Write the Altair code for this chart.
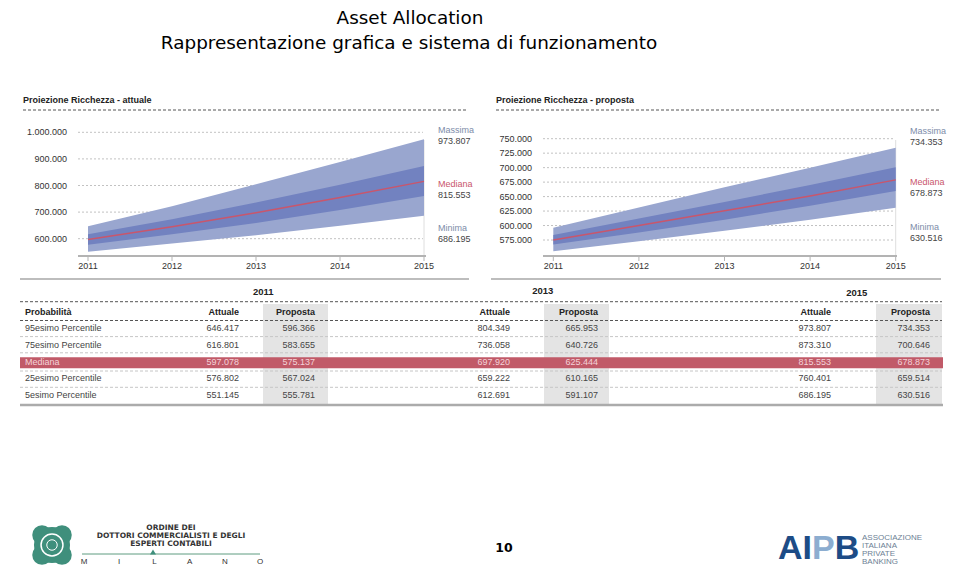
import altair as alt
import pandas as pd

# ---------------- data ----------------
years = [2011, 2012, 2013, 2014, 2015]

# Proiezione Ricchezza - attuale (percentiles per year)
att_p95 = [646417, 722000, 804349, 888000, 973807]
att_p75 = [616801, 673000, 736058, 803000, 873310]
att_med = [597078, 645000, 697920, 755000, 815553]
att_p25 = [576802, 617000, 659222, 708000, 760401]
att_p5 = [551145, 582000, 612691, 649000, 686195]

# Proiezione Ricchezza - proposta
pro_p95 = [596366, 631000, 665953, 700000, 734353]
pro_p75 = [583655, 612000, 640726, 670000, 700646]
pro_med = [575137, 600000, 625444, 651000, 678873]
pro_p25 = [567024, 588000, 610165, 634000, 659514]
pro_p5 = [555781, 573000, 591107, 610000, 630516]

att_ticks = [600000, 700000, 800000, 900000, 1000000]
pro_ticks = [575000, 600000, 625000, 650000, 675000, 700000, 725000, 750000]

row_labels = ["95esimo Percentile", "75esimo Percentile", "Mediana",
              "25esimo Percentile", "5esimo Percentile"]
table_years = [2011, 2013, 2015]

# ---------------- style ----------------
FONT = "Liberation Sans"
TFONT = "DejaVu Sans"
OUTER = "#99a6cf"
INNER = "#7282c0"
RED = "#c9566c"
TXT = "#333333"
M = 8


def px(v):
    return v - M


def it(v):
    return f"{v:,}".replace(",", ".")


def one(t="x"):
    return pd.DataFrame({"t": [t]})


def label(text, x, y, size=9, color=TXT, weight="normal", align="left",
          baseline="middle", font=FONT):
    return alt.Chart(one(text)).mark_text(
        align=align, baseline=baseline, fontSize=size, color=color,
        fontWeight=weight, font=font
    ).encode(x=alt.value(px(x)), y=alt.value(px(y)), text="t:N")


def hline(x1, x2, y, color, width=1, dash=None):
    kw = dict(color=color, strokeWidth=width)
    if dash:
        kw["strokeDash"] = dash
    return alt.Chart(one()).mark_rule(**kw).encode(
        x=alt.value(px(x1)), x2=alt.value(px(x2)), y=alt.value(px(y)))


def box(x1, x2, y1, y2, color):
    return alt.Chart(one()).mark_rect(color=color).encode(
        x=alt.value(px(x1)), x2=alt.value(px(x2)),
        y=alt.value(px(y1)), y2=alt.value(px(y2)))


def dot(x, y, size, color, filled=True, stroke=None, sw=1):
    if filled:
        m = alt.Chart(one()).mark_circle(color=color, opacity=1, size=size)
    else:
        m = alt.Chart(one()).mark_point(color=stroke, filled=False, size=size,
                                        strokeWidth=sw, opacity=1)
    return m.encode(x=alt.value(px(x)), y=alt.value(px(y)))


def panel(df, x0, x1, ydom, yr, ticks, gx0, gx1, labr, ax0, ax1):
    xs = alt.Scale(domain=[2011, 2015], range=[px(x0), px(x1)], nice=False, zero=False)
    ys = alt.Scale(domain=ydom, range=[px(yr[0]), px(yr[1])], nice=False, zero=False)
    X = alt.X("year:Q", scale=xs, axis=None)
    tdf = pd.DataFrame({"v": ticks, "lab": [it(v) for v in ticks]})
    grid = alt.Chart(tdf).mark_rule(color="#c2c2c2", strokeDash=[2, 2]).encode(
        y=alt.Y("v:Q", scale=ys, axis=None), x=alt.value(px(gx0)), x2=alt.value(px(gx1)))
    ylab = alt.Chart(tdf).mark_text(align="right", baseline="middle", fontSize=9,
                                    font=FONT, color=TXT).encode(
        y=alt.Y("v:Q", scale=ys, axis=None), x=alt.value(px(labr)), text="lab:N")
    outer = alt.Chart(df).mark_area(color=OUTER, opacity=1).encode(
        x=X, y=alt.Y("p5:Q", scale=ys, axis=None), y2=alt.Y2("p95"))
    inner = alt.Chart(df).mark_area(color=INNER, opacity=1).encode(
        x=X, y=alt.Y("p25:Q", scale=ys, axis=None), y2=alt.Y2("p75"))
    med = alt.Chart(df).mark_line(color=RED, strokeWidth=1.5).encode(
        x=X, y=alt.Y("med:Q", scale=ys, axis=None))
    edge = alt.Chart(df[df.year == 2015]).mark_rule(color="#dedede").encode(
        x=X, y=alt.value(px(140)), y2=alt.value(px(255)))
    axis = hline(ax0, ax1, 256, "#b3b3b3", 2)
    tk = alt.Chart(df).mark_rule(color="#b3b3b3").encode(
        x=X, y=alt.value(px(256)), y2=alt.value(px(261)))
    xlab = alt.Chart(df).mark_text(baseline="middle", fontSize=9, font=FONT,
                                   color=TXT).encode(
        x=X, y=alt.value(px(266)), text=alt.Text("year:Q", format="d"))
    return [grid, edge, outer, inner, med, ylab, axis, tk, xlab]


df_att = pd.DataFrame({"year": years, "p95": att_p95, "p75": att_p75,
                       "med": att_med, "p25": att_p25, "p5": att_p5})
df_pro = pd.DataFrame({"year": years, "p95": pro_p95, "p75": pro_p75,
                       "med": pro_med, "p25": pro_p25, "p5": pro_p5})

layers = []

# ---------------- title ----------------
layers.append(label("Asset Allocation", 410, 23.5, size=18.4, color="#000",
                    align="center", baseline="alphabetic", font=TFONT))
layers.append(label("Rappresentazione grafica e sistema di funzionamento", 409, 48.5,
                    size=18.4, color="#000", align="center", baseline="alphabetic",
                    font=TFONT))

# ---------------- chart panels ----------------
layers.append(label("Proiezione Ricchezza - attuale", 23, 100, weight="bold", color="#222"))
layers.append(hline(23, 468, 110, "#555", 1, [3, 2]))
layers.append(label("Proiezione Ricchezza - proposta", 496, 100, weight="bold", color="#222"))
layers.append(hline(496, 940, 110, "#555", 1, [3, 2]))

layers += panel(df_att, 88, 424, [600000, 1000000], [238.7, 132.3], att_ticks,
                78, 423, 67, 78, 426)
layers += panel(df_pro, 553.3, 895.7, [575000, 750000], [240, 138.7], pro_ticks,
                543, 895, 532, 543, 897)

GB = "#7d8ca9"
for (xa, vals, ys_) in [(438, (att_p95[-1], att_med[-1], att_p5[-1]), (130, 183.7, 227.7)),
                        (910, (pro_p95[-1], pro_med[-1], pro_p5[-1]), (130.7, 182.3, 227.3))]:
    for name, col, v, yy in zip(["Massima", "Mediana", "Minima"], [GB, RED, GB], vals, ys_):
        layers.append(label(name, xa, yy, color=col))
        layers.append(label(it(v), xa, yy + 11, color="#444"))

layers.append(hline(20, 469, 279, "#bdbdbd", 2))
layers.append(hline(491, 941, 279, "#bdbdbd", 2))

# ---------------- table ----------------
att_series = [att_p95, att_p75, att_med, att_p25, att_p5]
pro_series = [pro_p95, pro_p75, pro_med, pro_p25, pro_p5]
yT = alt.Scale(type="point", domain=row_labels, range=[px(328.3), px(395)], padding=0)

for gx in [(263, 328), (544, 609), (876, 942)]:
    layers.append(box(gx[0], gx[1], 304, 404, "#e4e4e4"))

layers.append(alt.Chart(pd.DataFrame({"row": ["Mediana"]})).mark_rule(
    color="#c15a68", strokeWidth=11).encode(
    y=alt.Y("row:N", scale=yT, axis=None), x=alt.value(px(20)), x2=alt.value(px(943)),
    yOffset=alt.value(1)))

layers.append(hline(20, 942, 301.7, "#555", 1, [3, 2]))
layers.append(hline(20, 942, 320.5, "#555", 1, [3, 2]))
for yy in [336.6, 352.8, 371, 387.3]:
    layers.append(hline(20, 942, yy, "#c6c6c6", 1, [3, 2]))
layers.append(hline(20, 943, 405, "#ababab", 2.5))

for yr_, cx, cy in zip(table_years, [263.3, 542.7, 856.7], [291.7, 291, 293]):
    layers.append(label(str(yr_), cx, cy, size=9.5, weight="bold", color="#222",
                        align="center"))

layers.append(label("Probabilità", 25, 312.3, weight="bold", color="#222"))
col_att = [239, 510, 831]
col_pro = [315, 598, 930]
for a, p in zip(col_att, col_pro):
    layers.append(label("Attuale", a, 312.3, weight="bold", color="#222", align="right"))
    layers.append(label("Proposta", p, 312.3, weight="bold", color="#222", align="right"))

txt_color = alt.condition(alt.datum.row == "Mediana", alt.value("#f4d3d8"), alt.value("#444"))
rl = pd.DataFrame({"row": row_labels})
layers.append(alt.Chart(rl).mark_text(align="left", baseline="middle", fontSize=9,
                                      font=FONT).encode(
    y=alt.Y("row:N", scale=yT, axis=None), x=alt.value(px(25)), text="row:N",
    color=txt_color))

year_idx = [years.index(y) for y in table_years]
for k, yi in enumerate(year_idx):
    for series, xr in [(att_series, col_att[k]), (pro_series, col_pro[k])]:
        d = pd.DataFrame({"row": row_labels, "val": [it(s[yi]) for s in series]})
        layers.append(alt.Chart(d).mark_text(align="right", baseline="middle",
                                             fontSize=9, font=FONT).encode(
            y=alt.Y("row:N", scale=yT, axis=None), x=alt.value(px(xr)), text="val:N",
            color=txt_color))

# ---------------- footer ----------------
GREEN = "#3f8f7c"
for dx, dy in [(-10, -10), (10, -10), (-10, 10), (10, 10)]:
    layers.append(dot(52 + dx, 545 + dy, 380, GREEN))
layers.append(dot(52, 545, 1300, GREEN))
layers.append(dot(52, 545, 480, None, filled=False, stroke="white", sw=1.5))
layers.append(dot(52, 545, 110, None, filled=False, stroke="white", sw=1))

layers.append(label("ORDINE  DEI", 171, 528, size=7.5, weight="bold", color="#333",
                    align="center", font=TFONT))
layers.append(label("DOTTORI COMMERCIALISTI E DEGLI", 171, 536, size=7.5, weight="bold",
                    color="#333", align="center", font=TFONT))
layers.append(label("ESPERTI CONTABILI", 171, 544, size=7.5, weight="bold", color="#333",
                    align="center", font=TFONT))
layers.append(hline(82, 260, 554, "#5f9c80", 1))
layers.append(alt.Chart(one()).mark_point(shape="triangle-up", filled=True, color=GREEN,
                                          size=36, opacity=1).encode(
    x=alt.value(px(153)), y=alt.value(px(552))))
for i, ch in enumerate("MILANO"):
    layers.append(label(ch, 84 + i * 35.2, 561.5, size=8, color="#333", align="center"))

layers.append(label("10", 504, 548, size=12.5, weight="bold", color="#000",
                    align="center", font=TFONT))

for ch, x0, col in [("A", 778, "#1d4c86"), ("I", 802.5, "#1d4c86"),
                    ("P", 812, "#8cadd0"), ("B", 834.7, "#1d4c86")]:
    layers.append(label(ch, x0, 549, size=34, weight="bold", color=col, align="left",
                        font=FONT))
for i, w in enumerate(["ASSOCIAZIONE", "ITALIANA", "PRIVATE", "BANKING"]):
    layers.append(label(w, 862, 538 + i * 8, size=8, color="#6d7f95"))

chart = alt.layer(*layers).resolve_scale(
    x="independent", y="independent", color="independent"
).properties(
    width=944, height=559, padding=0, autosize="none", background="white"
).configure_view(stroke=None)

chart.save("out.html", embed_options={"renderer": "svg", "actions": False})
